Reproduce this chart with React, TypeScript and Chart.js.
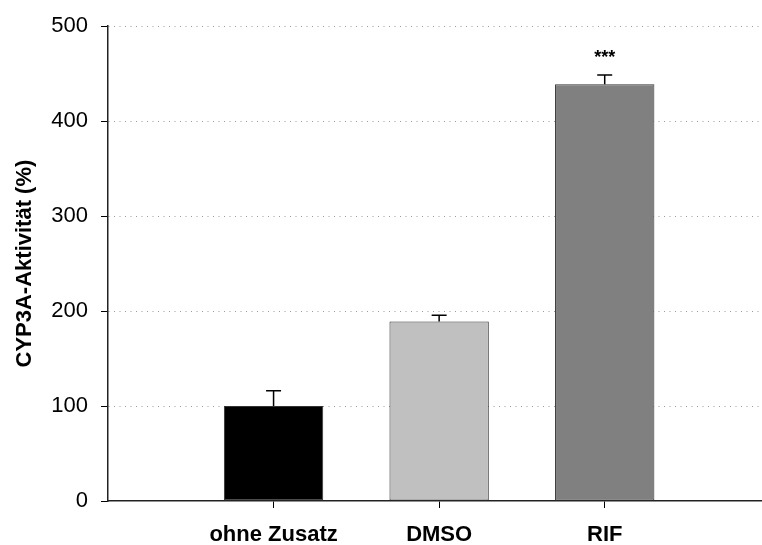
import React, { useEffect, useRef } from "react";
import { Chart, registerables } from "chart.js";

Chart.register(...registerables);

const categories = ["ohne Zusatz", "DMSO", "RIF"];
const positions = [1, 2, 3];
const values = [100, 189, 439];
const errors = [16, 6.5, 9.5];
const significance = ["", "", "***"];
const barColors = ["#000000", "#c0c0c0", "#808080"];
const yTicks = [0, 100, 200, 300, 400, 500];
const yTitle = "CYP3A-Aktivität (%)";

const FONT = "'Liberation Sans', Arial, sans-serif";

const errorBarPlugin = {
  id: "errorBars",
  afterDatasetsDraw(chart: any) {
    const ctx = chart.ctx;
    const xs = chart.scales.x;
    const ys = chart.scales.y;
    ctx.save();
    ctx.strokeStyle = "#000";
    ctx.lineWidth = 1.5;
    values.forEach((v, i) => {
      const px = xs.getPixelForValue(positions[i]);
      const y0 = ys.getPixelForValue(v);
      const y1 = ys.getPixelForValue(v + errors[i]);
      ctx.beginPath();
      ctx.moveTo(px, y0);
      ctx.lineTo(px, y1);
      ctx.moveTo(px - 7.5, y1);
      ctx.lineTo(px + 7.5, y1);
      ctx.stroke();
      if (significance[i]) {
        ctx.fillStyle = "#000";
        ctx.font = `bold 18px ${FONT}`;
        ctx.textAlign = "center";
        ctx.textBaseline = "middle";
        ctx.fillText(significance[i], px, y1 - 17);
      }
    });
    ctx.restore();
  },
};

export default function App() {
  const ref = useRef<HTMLCanvasElement | null>(null);
  useEffect(() => {
    if (!ref.current) return;
    const chart = new Chart(ref.current, {
      type: "bar",
      data: {
        datasets: [
          {
            data: values.map((v, i) => ({ x: positions[i], y: v })),
            backgroundColor: barColors,
            borderColor: "#333333",
            borderWidth: 1,
            borderSkipped: false,
            barPercentage: 0.6,
            categoryPercentage: 1,
          },
        ],
      },
      options: {
        animation: false,
        responsive: false,
        layout: { padding: { top: 25, right: 0, left: 0, bottom: 0 } },
        plugins: {
          legend: { display: false },
          tooltip: { enabled: false },
        },
        scales: {
          x: {
            type: "linear",
            min: 0,
            max: 3.95,
            offset: false,
            afterBuildTicks: (scale: any) => {
              scale.ticks = positions.map((p) => ({ value: p }));
            },
            afterFit: (scale: any) => {
              scale.height = 44;
              scale.paddingLeft = 0;
              scale.paddingRight = 0;
            },
            ticks: {
              callback: (value: any) => categories[positions.indexOf(Number(value))] ?? "",
              color: "#000",
              font: { family: FONT, size: 22, weight: "bold" },
              padding: 14,
              maxRotation: 0,
              autoSkip: false,
            },
            grid: {
              offset: false,
              drawOnChartArea: false,
              drawTicks: true,
              tickLength: 7,
              tickColor: "#000",
              tickWidth: 1,
            },
            border: { display: true, color: "#222", width: 1.5 },
          },
          y: {
            min: 0,
            max: 500,
            afterBuildTicks: (scale: any) => {
              scale.ticks = yTicks.map((t) => ({ value: t }));
            },
            afterFit: (scale: any) => {
              scale.width = 108;
            },
            ticks: {
              color: "#000",
              font: { family: FONT, size: 22 },
              padding: 13,
            },
            grid: {
              color: (c: any) => (c.tick && c.tick.value === 0 ? "rgba(0,0,0,0)" : "#9a9a9a"),
              lineWidth: 1,
              drawTicks: true,
              tickLength: 7,
              tickColor: "#000",
              tickWidth: 1,
              tickBorderDash: [],
            },
            border: { display: true, color: "#222", width: 1.5, dash: [1, 4.5] },
            title: {
              display: true,
              text: yTitle,
              color: "#000",
              font: { family: FONT, size: 22, weight: "bold" },
              padding: { top: 12, bottom: 0 },
            },
          },
        },
      } as any,
      plugins: [errorBarPlugin],
    });
    return () => chart.destroy();
  }, []);
  return (
    <div style={{ position: "fixed", left: 0, top: 0, width: 762, height: 545, background: "#fff" }}>
      <canvas ref={ref} width={762} height={545} style={{ display: "block" }} />
    </div>
  );
}
